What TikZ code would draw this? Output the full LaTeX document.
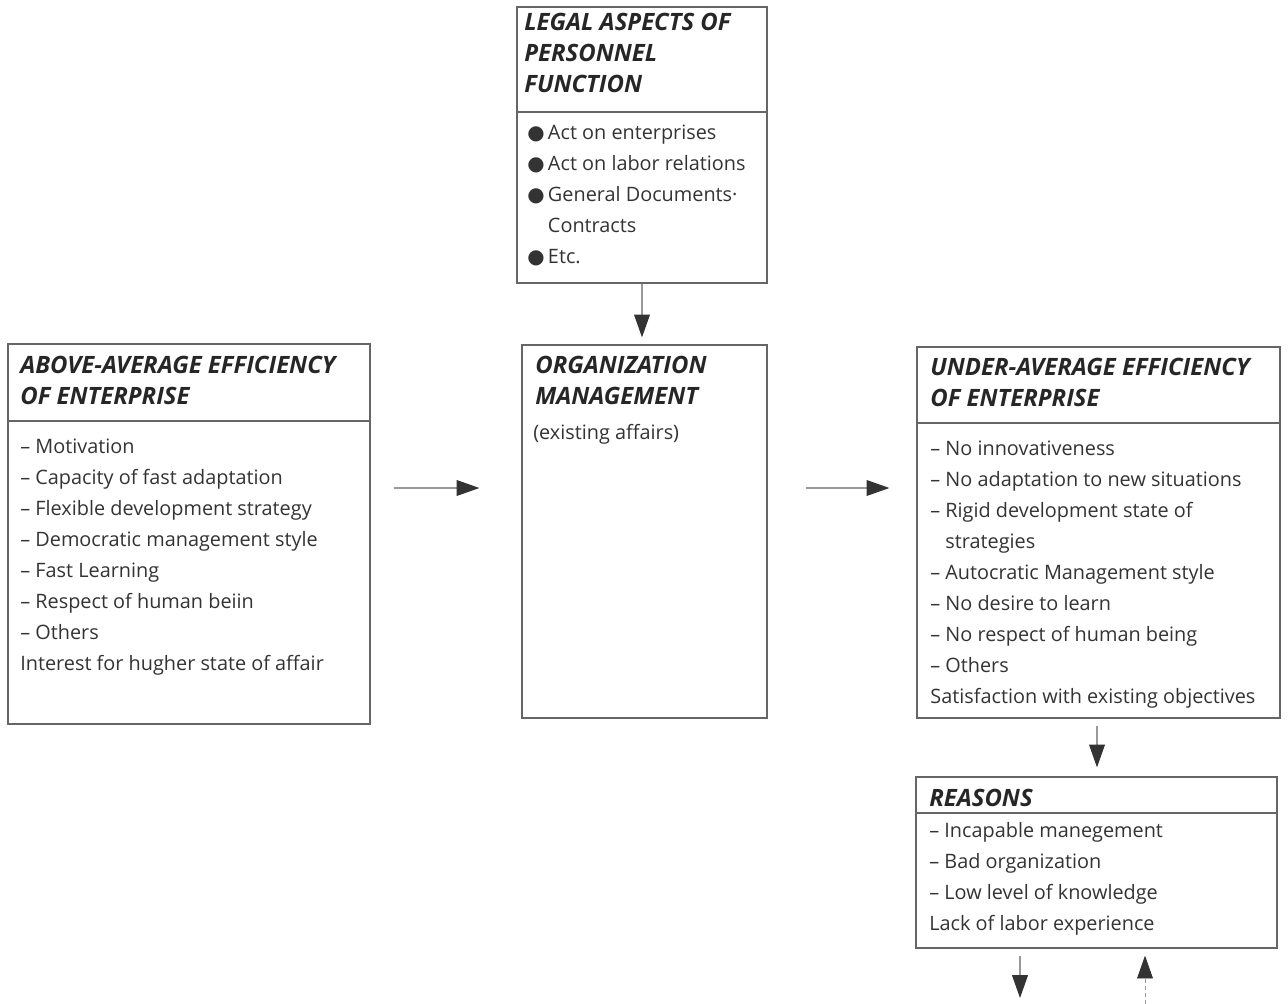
\documentclass[tikz,border=0pt]{standalone}
\usepackage{fontspec}
\setmainfont{Open Sans}
\newfontfamily\dotfont{DejaVu Sans}
\usetikzlibrary{arrows.meta,fit}
\newcommand{\itm}{{\dotfont\char"25CF}\,}
\begin{document}
\begin{tikzpicture}
    [
        x=0.02cm, y=-0.02cm,
        frame/.style = {draw=black!60, line width=0.7pt, inner sep=0},
        head/.style = {anchor=north west, inner sep=0, align=left, text=black!85,
            font=\bfseries\itshape\fontsize{13.6}{17.6}\selectfont},
        body/.style = {anchor=north west, inner sep=0, align=left, text=black!80,
            font=\fontsize{11.3}{17.6}\selectfont},
        flow/.style = {draw=black!40, line width=0.7pt,
            -{Triangle[length=13pt, width=9pt, color=black!80]}}
    ]
    \useasboundingbox (0,0) rectangle (1288,1004);
    % boxes
    \node[frame, fit={(517,7) (767,283)}] (legal) {};
    \node[frame, fit={(8,344) (370,724)}] (above) {};
    \node[frame, fit={(522,345) (767,718)}] (org) {};
    \node[frame, fit={(917,347) (1280,718)}] (under) {};
    \node[frame, fit={(916,777) (1277,948)}] (reasons) {};
    % dividers
    \draw[frame] (legal.west |- 0,112) -- (legal.east |- 0,112);
    \draw[frame] (above.west |- 0,421) -- (above.east |- 0,421);
    \draw[frame] (under.west |- 0,423) -- (under.east |- 0,423);
    \draw[frame] (reasons.west |- 0,813) -- (reasons.east |- 0,813);
    % texts
    \node[head] (legalhead) at (524,13) {LEGAL ASPECTS OF\\PERSONNEL\\FUNCTION};
    \node[body] (legalbody) at (527,125) {\itm Act on enterprises\\\itm Act on labor relations\\\itm General Documents·\\\phantom{\itm}Contracts\\\itm Etc.};
    \node[head] (abovehead) at (20,356) {ABOVE-AVERAGE EFFICIENCY\\OF ENTERPRISE};
    \node[body] (abovebody) at (20,439) {– Motivation\\– Capacity of fast adaptation\\– Flexible development strategy\\– Democratic management style\\– Fast Learning\\– Respect of human beiin\\– Others\\Interest for hugher state of affair};
    \node[head] (orghead) at (535,356) {ORGANIZATION\\MANAGEMENT};
    \node[body] (orgbody) at (533,424) {(existing affairs)};
    \node[head] (underhead) at (930,358) {UNDER-AVERAGE EFFICIENCY\\OF ENTERPRISE};
    \node[body] (underbody) at (930,441) {– No innovativeness\\– No adaptation to new situations\\– Rigid development state of\\\phantom{– }strategies\\– Autocratic Management style\\– No desire to learn\\– No respect of human being\\– Others\\Satisfaction with existing objectives};
    \node[head] (reasonshead) at (929,789) {REASONS};
    \node[body] (reasonsbody) at (929,822) {– Incapable manegement\\– Bad organization\\– Low level of knowledge\\Lack of labor experience};
    % connectors
    \coordinate (down) at (1020,998);
    \coordinate (up) at (1145,1004);
    \draw[flow, shorten >=0.14cm] (legal.south) -- (legal.south |- org.north);
    \draw[flow, shorten <=0.46cm, shorten >=0.84cm] (above.east |- 0,488) -- (org.west |- 0,488);
    \draw[flow, shorten <=0.76cm, shorten >=0.54cm] (org.east |- 0,488) -- (under.west |- 0,488);
    \draw[flow, shorten <=0.14cm, shorten >=0.18cm] (under.south -| 1097,0) -- (reasons.north -| 1097,0);
    \draw[flow, shorten <=0.14cm] (reasons.south -| down) -- (down);
    \draw[flow, line width=0.5pt, dash pattern=on 2pt off 2pt, shorten >=0.14cm] (up) -- (reasons.south -| up);
\end{tikzpicture}
\end{document}
